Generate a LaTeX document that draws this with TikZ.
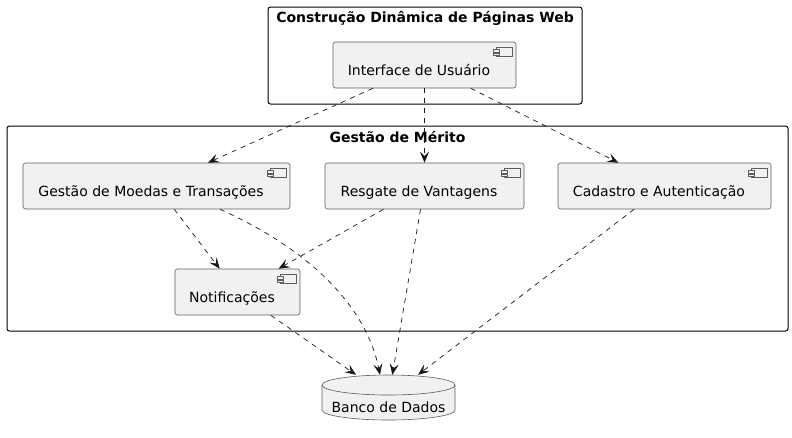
\documentclass[tikz,border=0pt]{standalone}
\usepackage{fontspec}
\setmainfont{DejaVu Sans}
\usetikzlibrary{calc,arrows.meta}
\definecolor{BoxFill}{HTML}{F1F1F1}
\definecolor{BoxLine}{HTML}{181818}
\tikzset{
  comp/.style={draw=BoxLine!70,fill=BoxFill,line width=.6pt,rounded corners=2.5pt,minimum height=46pt,inner sep=0pt,font=\fontsize{14}{16}\selectfont},
  frame/.style={draw=black,line width=1pt,rounded corners=2.5pt},
  ftitle/.style={font=\bfseries\fontsize{14}{16}\selectfont,inner sep=0pt,anchor=base},
  dep/.style={draw=BoxLine,line width=.7pt,dash pattern=on 5pt off 5pt,-{Stealth[length=11pt,width=9pt,inset=4.5pt]}}
}
\newcommand\lowtext[3]{\raisebox{-#1}[0pt][0pt]{\makebox[0pt]{\hspace{#2}#3}}}
\begin{document}
\begin{tikzpicture}[x=1pt,y=-1pt,line cap=butt,line join=round]
  \useasboundingbox (0,0) rectangle (792,437);
  % packages
  \draw[frame] (268,7) rectangle (582,104);
  \node[ftitle] (tweb) at (425,22) {Construção Dinâmica de Páginas Web};
  \draw[frame] (7,126) rectangle (788,331);
  \node[ftitle] (tmer) at (397.5,142) {Gestão de Mérito};
  % components
  \node[comp,minimum width=183pt] (ui) at (424.5,65) {\lowtext{10pt}{-11pt}{Interface de Usuário}};
  \node[comp,minimum width=267pt] (moe) at (156.5,186) {\lowtext{10pt}{-11pt}{Gestão de Moedas e Transações}};
  \node[comp,minimum width=199pt] (res) at (424.5,186) {\lowtext{10pt}{-11pt}{Resgate de Vantagens}};
  \node[comp,minimum width=213pt] (cad) at (664.5,186) {\lowtext{10pt}{-11pt}{Cadastro e Autenticação}};
  \node[comp,minimum width=125pt] (ntf) at (237.5,292) {\lowtext{10pt}{-11pt}{Notificações}};
  \foreach \n in {ui,moe,res,cad,ntf}{
    \draw[BoxLine!70,line width=.5pt,fill=BoxFill] ($(\n.north east)+(-20,6)$) rectangle ($(\n.north east)+(-4,15)$);
    \draw[BoxLine!70,line width=.5pt,fill=BoxFill] ($(\n.north east)+(-23,8)$) rectangle ($(\n.north east)+(-17,10.5)$);
    \draw[BoxLine!70,line width=.5pt,fill=BoxFill] ($(\n.north east)+(-23,11.5)$) rectangle ($(\n.north east)+(-17,14)$);
  }
  % database
  \draw[BoxLine!70,line width=.6pt,fill=BoxFill] (322,385) -- (322,410) arc (180:0:66.5 and 10) -- (455,385) arc (0:-180:66.5 and 10) -- cycle;
  \draw[BoxLine!70,line width=.6pt] (322,385) arc (180:0:66.5 and 10);
  \node[minimum width=133pt,minimum height=45pt,inner sep=0pt,font=\fontsize{14}{16}\selectfont] (db) at (388.5,397.5) {\lowtext{15pt}{0pt}{Banco de Dados}};
  % dependencies
  \draw[dep] (ui) -- (moe);
  \draw[dep] (ui) -- (res);
  \draw[dep] (ui) -- (cad);
  \draw[dep] (moe) -- (ntf);
  \draw[dep] (res) -- (ntf);
  \draw[dep] (res) -- (db);
  \draw[dep] (cad) -- (db);
  \draw[dep] (ntf) -- (db);
  \draw[dep] (moe.south -| 220,0) .. controls (300,245) and (365,300) .. (db.north -| 380,0);
\end{tikzpicture}
\end{document}
